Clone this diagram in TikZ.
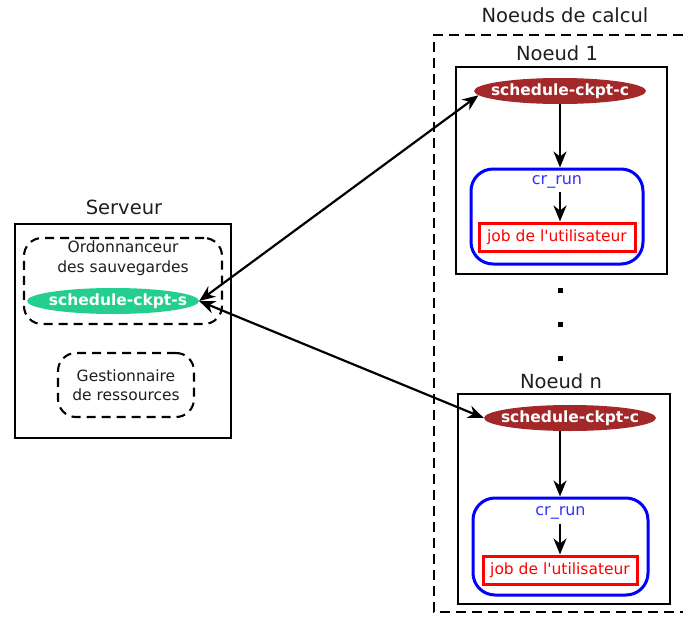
\documentclass[tikz,border=0pt]{standalone}
\usepackage{fontspec}
\setmainfont{DejaVu Sans}
\usetikzlibrary{shapes.geometric,arrows.meta}
\definecolor{sgreen}{RGB}{36,206,142}
\definecolor{sbrown}{RGB}{162,40,42}
\definecolor{txt}{RGB}{30,30,30}
\definecolor{crblue}{RGB}{50,50,255}
\begin{document}
\begin{tikzpicture}[x=1pt,y=-1pt,
  box/.style={draw, line width=2.1pt, inner sep=0pt},
  dbox/.style={draw, line width=2.1pt, dash pattern=on 9pt off 6pt, rounded corners=18pt, inner sep=0pt, align=center, font=\fontsize{15.5}{19.5}\selectfont, text=txt},
  title/.style={font=\fontsize{19.5}{22}\selectfont, text=txt, inner sep=0pt},
  proc/.style={ellipse, inner sep=0pt, minimum width=172pt, minimum height=26pt, text=white, font=\fontsize{15.5}{18}\selectfont\bfseries},
  crbox/.style={draw=blue, line width=3pt, rounded corners=22pt, inner sep=0pt},
  jobbox/.style={draw=red, line width=3pt, inner sep=0pt, text=red, font=\fontsize{15.5}{18}\selectfont},
  crlabel/.style={text=crblue, font=\fontsize{16}{18}\selectfont, inner sep=0pt},
  arr/.style={-{Stealth[length=16pt,width=13pt,inset=5pt]}, line width=2.2pt},
  darr/.style={{Stealth[length=16pt,width=13pt,inset=5pt]}-{Stealth[length=16pt,width=13pt,inset=5pt]}, line width=2.2pt},
  dot/.style={fill=black, minimum size=5pt, inner sep=0pt}
]
\useasboundingbox (0,0) rectangle (683,618);

% Server side
\node[title] (tserv) at (124,207) {Serveur};
\node[box, minimum width=216pt, minimum height=214pt] (serv) at (123,331) {};
\node[dbox, minimum width=198pt, minimum height=86pt] (ord) at (123,281) {};
\node[align=center, font=\fontsize{15.5}{20}\selectfont, text=txt, inner sep=0pt] (tord) at (123,258) {Ordonnanceur\\des sauvegardes};
\node[proc, fill=sgreen] (s) at (113,301) {\makebox[0pt]{\hspace{10pt}schedule-ckpt-s}};
\node[dbox, minimum width=136pt, minimum height=64pt] (gest) at (126,385) {Gestionnaire\\de ressources};

% Compute nodes container
\node[title] (tcalc) at (565,15) {Noeuds de calcul};
\draw[line width=2.1pt, dash pattern=on 10pt off 6pt] (683,35) -- (434,35) -- (434,612) -- (683,612);

% Noeud 1
\node[title] (tn1) at (557,53) {Noeud 1};
\node[box, minimum width=211pt, minimum height=207pt] (n1) at (561.5,170.5) {};
\node[proc, fill=sbrown] (c1) at (560,91) {\makebox[0pt]{schedule-ckpt-c}};
\node[crbox, minimum width=172pt, minimum height=95pt] (cr1) at (557,216.5) {};
\node[crlabel] (crl1) at (557,182) {cr\_run};
\node[jobbox, minimum width=156pt, minimum height=28pt] (job1) at (557,237) {job de l\textquotesingle utilisateur};
\coordinate (a1) at (560,192);
\draw[arr] (c1.south) -- (c1.south |- cr1.north);
\draw[arr] (a1) -- (a1 |- job1.north);

% dots
\node[dot] (d1) at (560,290) {};
\node[dot] (d2) at (560,324) {};
\node[dot] (d3) at (560,358) {};

% Noeud n
\node[title] (tnn) at (561,381) {Noeud n};
\node[box, minimum width=212pt, minimum height=210pt] (nn) at (564,499) {};
\node[proc, fill=sbrown] (cn) at (570,418) {\makebox[0pt]{schedule-ckpt-c}};
\node[crbox, minimum width=175pt, minimum height=97pt] (crn) at (560.5,546.5) {};
\node[crlabel] (crln) at (560.5,513) {cr\_run};
\node[jobbox, minimum width=154pt, minimum height=28pt] (jobn) at (560,570) {job de l\textquotesingle utilisateur};
\coordinate (bn) at (560,431);
\coordinate (an) at (560,524);
\draw[arr] (bn) -- (bn |- crn.north);
\draw[arr] (an) -- (an |- jobn.north);

% Links
\draw[darr] (s.east) -- (c1.183);
\draw[darr] (s.east) -- (cn.west);
\end{tikzpicture}
\end{document}
